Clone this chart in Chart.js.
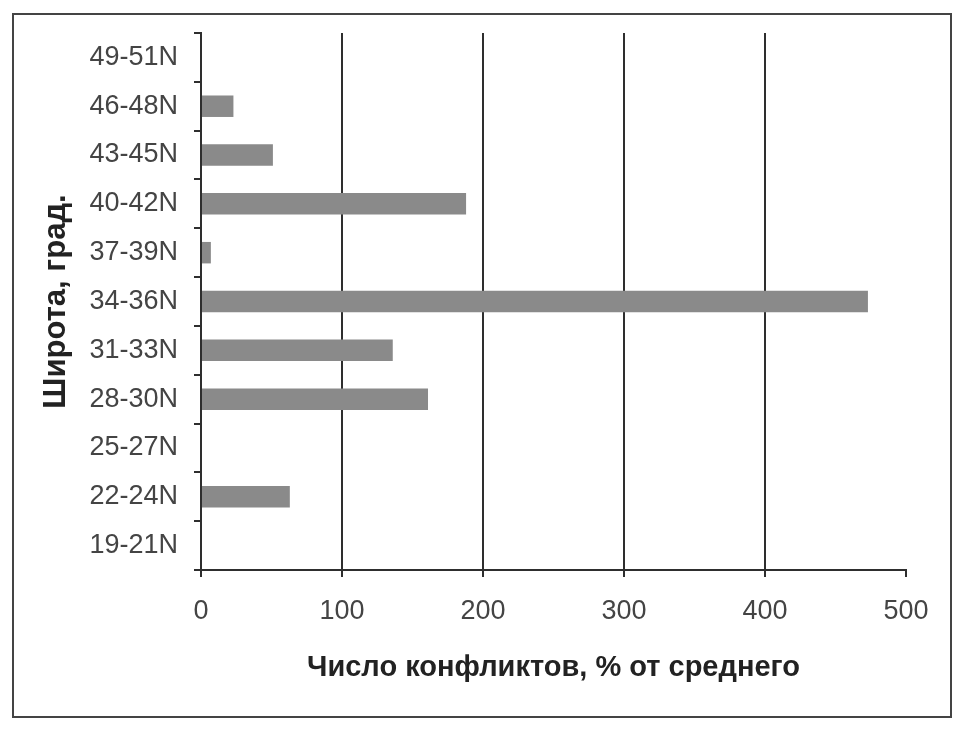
<!DOCTYPE html>
<html>
<head>
<meta charset="utf-8">
<script src="https://cdn.jsdelivr.net/npm/chart.js@4.4.1/dist/chart.umd.min.js"></script>
<style>
body{margin:0;background:#fff;}
#wrap{position:relative;width:967px;height:733px;}
#frame{position:absolute;left:12px;top:13px;width:940px;height:705px;border:2px solid #444;box-sizing:border-box;}
#latChart{position:absolute;left:0;top:0;}
</style>
</head>
<body>
<div id="wrap">
<div id="frame"></div>
<canvas id="latChart" width="967" height="733"></canvas>
</div>
<script>

/* широты сверху вниз */
var latitudes=["49-51N","46-48N","43-45N","40-42N","37-39N","34-36N","31-33N","28-30N","25-27N","22-24N","19-21N"];

var conflicts=[0,23,51,188,7,473,136,161,0,63,0];

var xTicks=[0,100,200,300,400,500];

var tickFont="'Liberation Sans',Arial,sans-serif";
var lineColor="#2e2e2e";

const ctx=document.getElementById('latChart');

new Chart(ctx,{

type:'bar',

data:{
labels:latitudes,
datasets:[{
data:conflicts,
backgroundColor:'#8a8a8a',
borderWidth:0,
barPercentage:0.44,
categoryPercentage:1
}]
},

options:{
indexAxis:'y',
responsive:false,
animation:false,
layout:{padding:{left:30,top:33,right:61,bottom:46}},
plugins:{legend:{display:false},tooltip:{enabled:false}},
scales:{
x:{
min:0,
max:500,
afterBuildTicks:function(scale){
scale.ticks=xTicks.map(function(v){return {value:v};});
},
afterFit:function(scale){scale.height=117;},
grid:{
color:function(c){return (c.tick && c.tick.value===500)?'rgba(0,0,0,0)':lineColor;},
tickColor:lineColor,
lineWidth:2,
tickLength:7
},
border:{display:true,color:lineColor,width:2},
ticks:{
color:'#444',
padding:18,
font:{family:tickFont,size:27}
},
title:{
display:true,
text:'Число конфликтов, % от среднего',
color:'#222',
padding:{top:0,bottom:2},
font:{family:tickFont,size:29,weight:'bold'}
}
},
y:{
afterFit:function(scale){scale.width=171;},
grid:{
drawOnChartArea:false,
color:lineColor,
lineWidth:2,
tickLength:7
},
border:{display:true,color:lineColor,width:2},
ticks:{
color:'#444',
padding:16,
font:{family:tickFont,size:27}
},
title:{
display:true,
text:'Широта, град.',
color:'#222',
padding:{top:8,bottom:0},
font:{family:tickFont,size:31,weight:'bold'}
}
}
}
}

});

</script>
</body>
</html>
